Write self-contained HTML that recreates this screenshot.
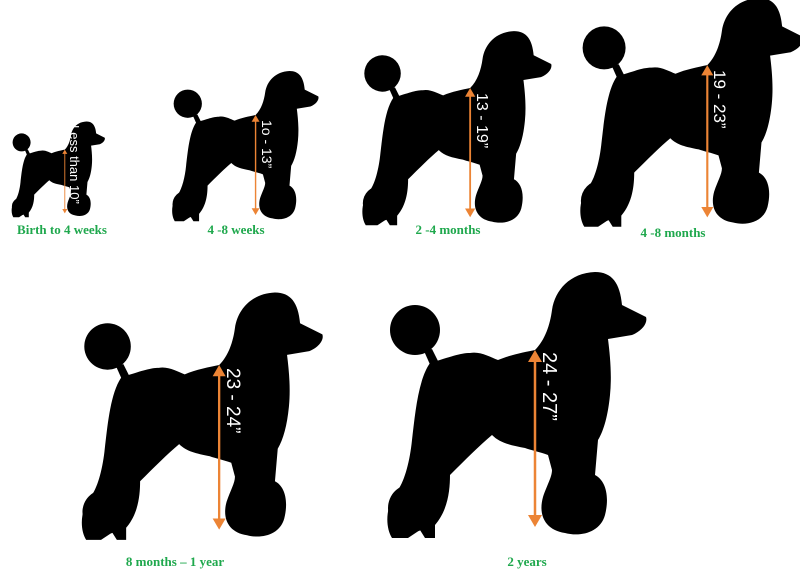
<!DOCTYPE html>
<html><head><meta charset="utf-8"><style>
html,body{margin:0;padding:0;background:#fff}
svg{display:block}
.lbl{font-family:"Liberation Serif",serif;font-weight:bold;font-size:13px;fill:#1fa84d}
.h{font-family:"Liberation Sans",sans-serif;fill:#fff}
</style></head><body>
<svg width="800" height="585" viewBox="0 0 800 585" xmlns="http://www.w3.org/2000/svg">
<defs>
<g id="dog">
<circle cx="35" cy="65" r="25" fill="#000"/>
<path d="M44,86 L52,84 L60,100 L52,104 Z" fill="#000"/>
<path fill="#000" d="M50,98 C70,92 80,88 90,88 C100,86 110,92 118,95 C130,90 145,87 155,85 C165,75 170,60 172,45 C175,25 190,8 215,7 C232,7 240,18 242,40 L266,52 C268,58 262,66 252,70 L228,74 C230,90 232,110 230,130 C228,150 224,165 218,175 L215,210 C225,215 230,230 225,250 C220,268 200,272 185,268 C165,265 158,250 163,232 C167,220 172,212 172,205 L168,190 C160,187 150,185 145,183 C130,180 120,178 112,170 C100,180 85,195 70,210 C70,225 68,245 55,260 L55,273 L45,273 L40,265 L28,273 L12,273 C5,262 5,240 18,225 C25,215 30,195 32,175 C35,150 38,115 50,98 Z"/>
<ellipse cx="32" cy="243" rx="24" ry="24" fill="#000"/>
<line x1="155" y1="95" x2="155" y2="252" stroke="#ec8435" stroke-width="2.5"/>
<path d="M148,97 L155,85 L162,97 Z" fill="#ec8435"/>
<path d="M148,250 L155,262 L162,250 Z" fill="#ec8435"/>
</g>
</defs>

<g transform="translate(380,265)"><use href="#dog"/></g>
<g transform="translate(75,286) scale(0.93)"><use href="#dog"/></g>
<g transform="translate(574,-8) scale(0.86)"><use href="#dog"/></g>
<g transform="translate(357,26) scale(0.73)"><use href="#dog"/></g>
<g transform="translate(168,67) scale(0.565)"><use href="#dog"/></g>
<g transform="translate(9,119) scale(0.36)"><use href="#dog"/></g>

<text class="h" font-size="20" transform="translate(543,352) rotate(90)">24 - 27”</text>
<text class="h" font-size="19" transform="translate(227,368) rotate(90)">23 - 24”</text>
<text class="h" font-size="17" transform="translate(714,70) rotate(90)">19 - 23”</text>
<text class="h" font-size="16" transform="translate(477,93) rotate(90)">13 - 19”</text>
<text class="h" font-size="14" transform="translate(262,120) rotate(90)">1o - 13”</text>
<text class="h" font-size="13" transform="translate(70,125) rotate(90)">Less than 10”</text>

<text class="lbl" x="62" y="234" text-anchor="middle">Birth to 4 weeks</text>
<text class="lbl" x="236" y="234" text-anchor="middle">4 -8 weeks</text>
<text class="lbl" x="448" y="234" text-anchor="middle">2 -4 months</text>
<text class="lbl" x="673" y="237" text-anchor="middle">4 -8 months</text>
<text class="lbl" x="175" y="566" text-anchor="middle">8 months – 1 year</text>
<text class="lbl" x="527" y="566" text-anchor="middle">2 years</text>
</svg>
</body></html>
